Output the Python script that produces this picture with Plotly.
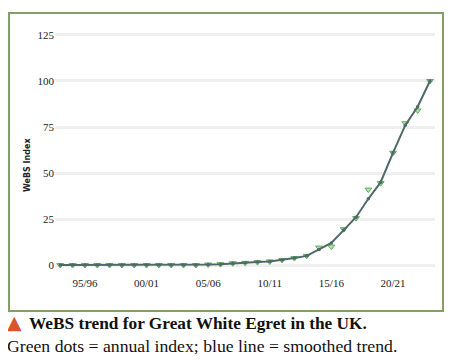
import plotly.graph_objects as go

# The page body adds an 8px margin, so the figure is drawn 8px smaller and
# positions below are given as (reference pixel - 8).
W, H = 445, 352
OFF = 8

years = list(range(1993, 2024))
trend = [0, 0, 0, 0, 0, 0, 0, 0, 0, 0, 0, 0,
         0.3, 0.5, 1.0, 1.2, 1.6, 2.0, 2.8, 3.8, 5.0,
         8.5, 12.0, 19.0, 26.0, 36.0, 45.0, 61.0, 76.0, 86.0, 100.0]
index = [0, 0, 0, 0, 0, 0, 0, 0, 0, 0, 0, 0,
         0.3, 0.5, 1.0, 1.2, 1.6, 2.0, 2.8, 3.8, 5.0,
         9.5, 10.0, 19.5, 25.5, 41.0, 44.5, 61.0, 77.0, 84.0, 100.0]
tick_years = [1995, 2000, 2005, 2010, 2015, 2020]
tick_labels = ["95/96", "00/01", "05/06", "10/11", "15/16", "20/21"]
y_ticks = [0, 25, 50, 75, 100, 125]


def px(x):
    return (x - OFF) / W


def py(y):
    return (H - (y - OFF)) / H


fig = go.Figure()
fig.add_trace(go.Scatter(
    x=years, y=index, mode="markers",
    marker=dict(symbol="triangle-down", size=6, color="rgba(120,200,120,0.55)",
                line=dict(color="#5cae5c", width=1)),
    showlegend=False, hoverinfo="skip"))
fig.add_trace(go.Scatter(
    x=years, y=trend, mode="lines+markers",
    line=dict(color="#4f6868", width=2),
    marker=dict(size=3.5, color="#4f6868"),
    showlegend=False, hoverinfo="skip"))

serif = "Liberation Serif"

fig.update_layout(
    width=W, height=H,
    margin=dict(l=0, r=0, t=0, b=0),
    paper_bgcolor="white", plot_bgcolor="white",
    xaxis=dict(domain=[px(55), px(435)], range=[1992.57, 2023.41],
               tickvals=tick_years, ticktext=tick_labels,
               showgrid=False, zeroline=False, showline=False, ticks="",
               tickfont=dict(family=serif, size=11, color="#222"),
               fixedrange=True, automargin=False),
    yaxis=dict(domain=[py(275), py(30)], range=[-5.4, 127.7],
               tickvals=y_ticks, showgrid=True, gridcolor="#efefef", gridwidth=3,
               zeroline=False, showline=False, ticks="",
               tickfont=dict(family=serif, size=11, color="#222"),
               fixedrange=True, automargin=False),
    shapes=[dict(type="rect", xref="paper", yref="paper",
                 x0=px(9), x1=px(443), y0=py(311), y1=py(13),
                 line=dict(color="#83a064", width=2))],
    annotations=[
        dict(text="<b>WeBS Index</b>", xref="paper", yref="paper",
             x=px(27), y=py(165), textangle=-90,
             xanchor="center", yanchor="middle", showarrow=False,
             font=dict(family="DejaVu Sans", size=8, color="#222")),
        dict(text="▲", xref="paper", yref="paper", x=px(5), y=py(322),
             xanchor="left", yanchor="middle", showarrow=False,
             font=dict(family="DejaVu Sans", size=19, color="#d9542b")),
        dict(text="<b>WeBS trend for Great White Egret in the UK.</b>",
             xref="paper", yref="paper", x=px(27), y=py(323),
             xanchor="left", yanchor="middle", showarrow=False,
             font=dict(family=serif, size=17.3, color="#111")),
        dict(text="Green dots = annual index; blue line = smoothed trend.",
             xref="paper", yref="paper", x=px(5), y=py(346),
             xanchor="left", yanchor="middle", showarrow=False,
             font=dict(family=serif, size=17.7, color="#111")),
    ],
)

fig.write_html("out.html")
